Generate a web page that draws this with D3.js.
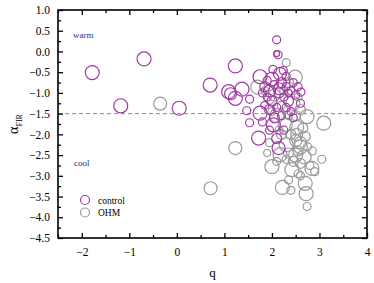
<!DOCTYPE html>
<html lang="en">
  <head>
    <meta charset="UTF-8" />
    <title>alpha FIR vs q</title>
    <script src="https://d3js.org/d3.v7.min.js"></script>
    <style>
      body { margin: 0; background: #fff; }
      svg text { font-family: "Liberation Serif", "DejaVu Serif", serif; }
    </style>
  </head>
  <body>
    <script>
      const width = 374;
      const height = 283;
      const margin = { top: 10, right: 7, bottom: 45, left: 58 };

      // [q, alpha_FIR, marker radius]
      const controlPoints = [
        [-1.78, -0.51, 7], [-1.18, -1.31, 7], [-0.69, -0.18, 7], [0.05, -1.37, 7],
        [0.70, -0.81, 7], [1.23, -0.35, 7], [1.09, -0.97, 7], [1.13, -1.02, 6],
        [1.37, -0.91, 7], [1.23, -1.13, 7], [1.53, -1.15, 4], [1.47, -1.43, 4],
        [1.53, -1.72, 4], [2.10, 0.28, 4], [2.13, -0.08, 4], [2.10, -0.05, 3],
        [2.24, -0.46, 4], [2.02, -0.43, 4], [1.75, -0.61, 7], [2.00, -0.67, 7],
        [2.17, -0.54, 6.5], [1.75, -1.49, 7], [2.03, -1.77, 7], [1.72, -2.09, 7],
        [2.61, -0.98, 4], [2.14, -2.33, 6.5],
        [1.85, -0.85, 5], [1.95, -0.95, 6], [2.05, -0.80, 4], [2.20, -0.75, 5],
        [2.30, -0.85, 4], [2.40, -0.95, 4], [2.15, -1.00, 5], [1.90, -1.10, 4],
        [2.00, -1.20, 5], [2.25, -1.10, 4], [2.35, -1.20, 5], [2.45, -0.75, 4],
        [2.50, -1.05, 4], [2.10, -1.35, 4], [1.95, -1.40, 5], [2.30, -1.35, 4],
        [2.20, -1.55, 4], [1.85, -1.30, 4], [2.05, -1.60, 5], [1.80, -1.70, 4],
        [2.40, -1.45, 4], [2.55, -0.85, 4], [2.60, -1.25, 4], [1.90, -0.70, 4],
        [2.30, -0.60, 4], [2.15, -0.90, 6], [2.45, -1.60, 4], [1.95, -1.90, 4],
        [2.25, -1.90, 4], [2.10, -2.10, 5], [1.80, -1.00, 4], [2.35, -1.00, 3.5]
      ];

      const ohmPoints = [
        [-0.35, -1.26, 6.5], [0.71, -3.30, 6.5], [1.23, -2.33, 6.5], [1.70, -0.86, 7],
        [2.30, -0.27, 4], [2.49, -0.62, 7], [2.44, -1.25, 7], [2.74, -1.57, 7],
        [3.09, -1.73, 7], [2.10, -1.55, 7], [2.28, -1.77, 7], [2.50, -1.55, 5],
        [2.52, -1.83, 7], [2.52, -2.00, 6], [2.17, -2.49, 7], [2.30, -2.25, 7],
        [2.00, -2.78, 7], [1.90, -2.45, 3.5], [2.50, -2.50, 7], [2.68, -2.54, 7],
        [2.42, -2.85, 7], [2.84, -2.82, 7], [2.70, -3.18, 7], [2.72, -3.43, 7],
        [2.22, -3.28, 7], [2.74, -3.74, 4], [3.05, -2.60, 4], [2.60, -3.00, 4],
        [2.35, -3.10, 4], [2.55, -2.95, 4], [2.80, -2.75, 4], [2.45, -2.65, 5],
        [2.60, -2.20, 6], [2.70, -2.05, 5], [2.40, -2.00, 5], [2.30, -2.60, 4],
        [2.10, -2.65, 4], [2.60, -2.70, 5], [2.90, -2.90, 4], [2.40, -3.35, 4],
        [1.85, -0.95, 4], [1.95, -1.15, 5], [2.05, -1.05, 6], [2.20, -1.30, 4],
        [2.35, -0.75, 5], [2.25, -0.95, 4], [2.55, -1.10, 4], [2.00, -1.45, 4],
        [2.60, -1.40, 5], [2.35, -1.55, 4], [2.20, -2.00, 5], [2.85, -2.40, 4],
        [2.65, -1.85, 5], [2.55, -2.40, 5], [2.35, -2.45, 5], [2.75, -2.30, 4],
        [1.95, -2.20, 4], [2.15, -1.90, 4], [2.60, -2.30, 7], [2.50, -2.15, 6]
      ];

      const xTicks = [-2, -1, 0, 1, 2, 3, 4];
      const xMinorTicks = [-2.5, -1.5, -0.5, 0.5, 1.5, 2.5, 3.5];
      const yTicks = [1.0, 0.5, 0.0, -0.5, -1.0, -1.5, -2.0, -2.5, -3.0, -3.5, -4.0, -4.5];
      const yMinorTicks = [0.75, 0.25, -0.25, -0.75, -1.25, -1.75, -2.25, -2.75, -3.25, -3.75, -4.25];
      const divider = -1.5;

      const purple = "#a23aa6";
      const grey = "#9a9a9a";

      const x = d3.scaleLinear().domain([-2.5, 4]).range([margin.left, width - margin.right]);
      const y = d3.scaleLinear().domain([-4.5, 1]).range([height - margin.bottom, margin.top]);

      const svg = d3.select("body").append("svg")
        .attr("width", width)
        .attr("height", height);

      // dashed divider
      svg.append("line")
        .attr("x1", x(-2.5)).attr("x2", x(4))
        .attr("y1", y(divider)).attr("y2", y(divider))
        .attr("stroke", "#888").attr("stroke-width", 1)
        .attr("stroke-dasharray", "4,3");

      // points
      svg.append("g").selectAll("circle")
        .data(ohmPoints).join("circle")
        .attr("cx", (d) => x(d[0])).attr("cy", (d) => y(d[1])).attr("r", (d) => d[2])
        .attr("fill", "none").attr("stroke", grey).attr("stroke-width", 1.2);

      svg.append("g").selectAll("circle")
        .data(controlPoints).join("circle")
        .attr("cx", (d) => x(d[0])).attr("cy", (d) => y(d[1])).attr("r", (d) => d[2])
        .attr("fill", "none").attr("stroke", purple).attr("stroke-width", 1.2);

      // axes, ticks pointing inward
      const bottom = height - margin.bottom;
      const right = width - margin.right;

      const styleAxis = (g) => {
        g.select(".domain").remove();
        g.selectAll("line").attr("stroke", "#000").attr("stroke-width", 1.3);
        g.selectAll("text").attr("font-size", 11.5).attr("fill", "#000");
      };

      svg.append("g").attr("transform", `translate(0,${bottom})`)
        .call(d3.axisBottom(x).tickValues(xTicks).tickSize(-5).tickPadding(10).tickFormat(d3.format("d")))
        .call(styleAxis);
      svg.append("g").attr("transform", `translate(0,${bottom})`)
        .call(d3.axisBottom(x).tickValues(xMinorTicks).tickSize(-3).tickFormat(""))
        .call(styleAxis);
      svg.append("g").attr("transform", `translate(0,${margin.top})`)
        .call(d3.axisTop(x).tickValues(xTicks).tickSize(-5).tickFormat(""))
        .call(styleAxis);
      svg.append("g").attr("transform", `translate(0,${margin.top})`)
        .call(d3.axisTop(x).tickValues(xMinorTicks).tickSize(-3).tickFormat(""))
        .call(styleAxis);

      svg.append("g").attr("transform", `translate(${margin.left},0)`)
        .call(d3.axisLeft(y).tickValues(yTicks).tickSize(-5).tickPadding(8).tickFormat(d3.format(".1f")))
        .call(styleAxis);
      svg.append("g").attr("transform", `translate(${margin.left},0)`)
        .call(d3.axisLeft(y).tickValues(yMinorTicks).tickSize(-3).tickFormat(""))
        .call(styleAxis);
      svg.append("g").attr("transform", `translate(${right},0)`)
        .call(d3.axisRight(y).tickValues(yTicks).tickSize(-5).tickFormat(""))
        .call(styleAxis);
      svg.append("g").attr("transform", `translate(${right},0)`)
        .call(d3.axisRight(y).tickValues(yMinorTicks).tickSize(-3).tickFormat(""))
        .call(styleAxis);

      // frame
      svg.append("rect")
        .attr("x", margin.left).attr("y", margin.top)
        .attr("width", right - margin.left).attr("height", bottom - margin.top)
        .attr("fill", "none").attr("stroke", "#000").attr("stroke-width", 1.6);

      // axis titles
      svg.append("text")
        .attr("x", (margin.left + right) / 2).attr("y", 277)
        .attr("text-anchor", "middle").attr("font-size", 13)
        .text("q");

      const yt = svg.append("text")
        .attr("transform", "translate(18,124) rotate(-90)")
        .attr("text-anchor", "middle").attr("font-size", 14);
      yt.append("tspan").text("α");
      yt.append("tspan").attr("font-size", 8).attr("dy", 4).text("FIR");

      // annotations
      svg.append("text").attr("x", 73).attr("y", 38)
        .attr("font-size", 9).attr("fill", "#2a2a8a").text("warm");
      svg.append("text").attr("x", 74).attr("y", 166)
        .attr("font-size", 9).attr("fill", "#2a2a8a").text("cool");

      // legend
      const legendItems = [
        { label: "control", color: purple },
        { label: "OHM", color: grey }
      ];
      const legend = svg.append("g").attr("transform", "translate(85,200)");
      legend.selectAll("circle").data(legendItems).join("circle")
        .attr("cx", 0).attr("cy", (d, i) => i * 12.5).attr("r", 4.5)
        .attr("fill", "none").attr("stroke", (d) => d.color).attr("stroke-width", 1.2);
      legend.selectAll("text").data(legendItems).join("text")
        .attr("x", 13).attr("y", (d, i) => i * 12.5 + 3.5)
        .attr("font-size", 9.5).text((d) => d.label);
    </script>
  </body>
</html>
